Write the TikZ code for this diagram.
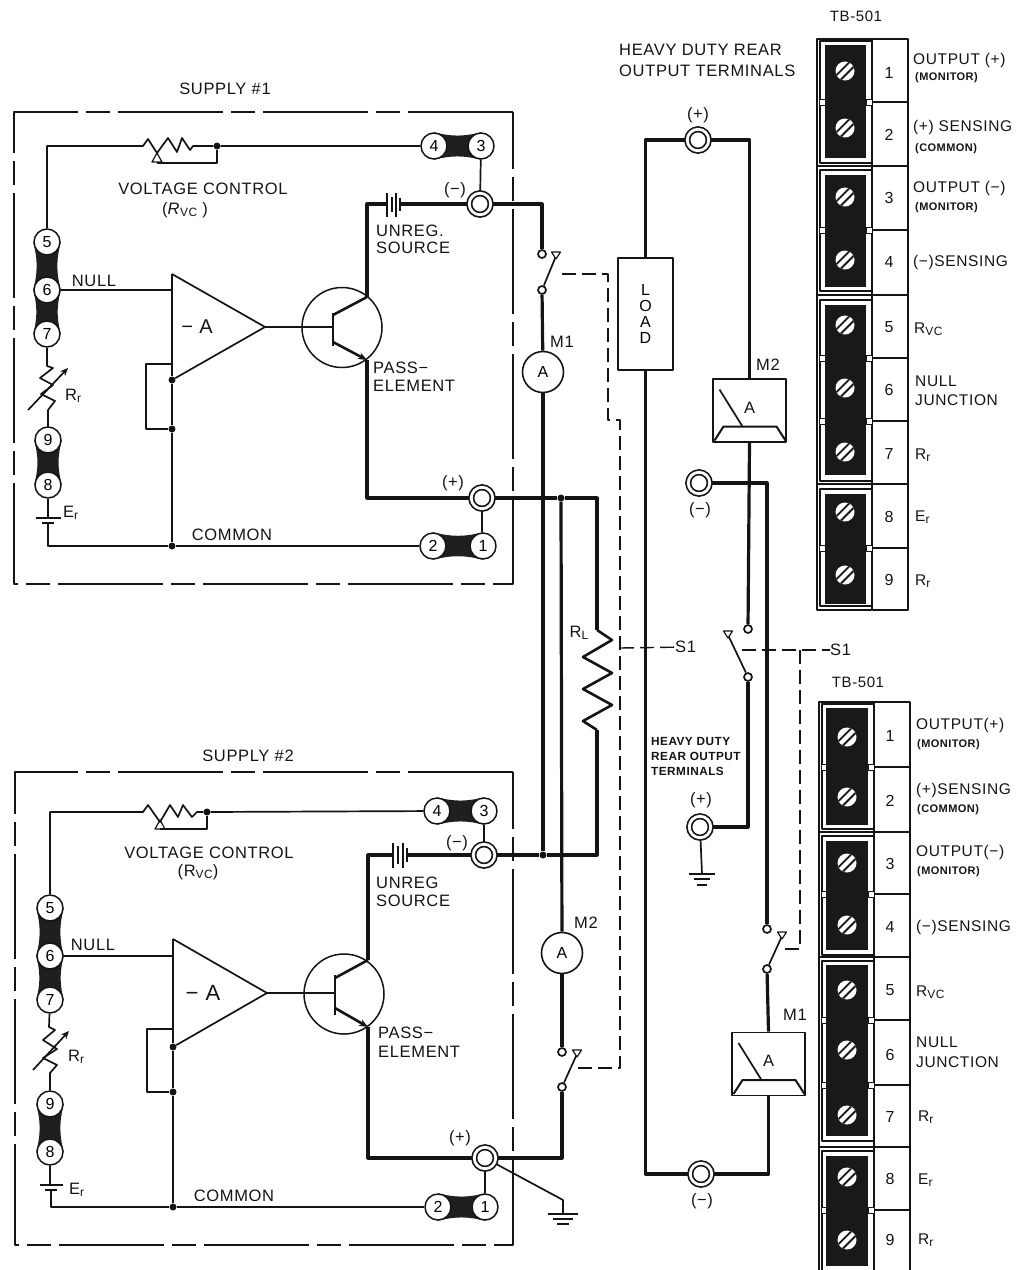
\documentclass[tikz,border=0pt]{standalone}
\usepackage{fontspec}
\setmainfont{Liberation Sans}[LetterSpace=4]
\usetikzlibrary{arrows.meta,backgrounds}

\definecolor{ink}{gray}{0.08}
\tikzset{
	every path/.style={line join=round},
	wire/.style={draw=ink,line width=1.7pt},
	bus/.style={draw=ink,line width=3.2pt},
	boxline/.style={draw=ink,line width=1.8pt,dash pattern=on 105pt off 8pt on 24pt off 8pt},
	link/.style={draw=ink,line width=1.4pt,dash pattern=on 14pt off 6pt},
	term/.style={circle,draw=ink,line width=1.5pt,fill=white,minimum size=26pt,inner sep=0pt,font=\fontsize{16}{16}\selectfont},
	bigterm/.style={circle,draw=ink,line width=1.7pt,double=white,double distance=2.8pt,fill=white,minimum size=21.5pt,inner sep=0pt,outer sep=2.6pt},
	contact/.style={circle,draw=ink,line width=1.7pt,fill=white,minimum size=8pt,inner sep=0pt},
	jdot/.style={circle,fill=ink,minimum size=7pt,inner sep=0pt},
	qcircle/.style={circle,draw=ink,line width=1.5pt,minimum size=80pt,inner sep=0pt},
	ammeter/.style={circle,draw=ink,line width=1.6pt,fill=white,minimum size=41pt,inner sep=0pt,font=\fontsize{16}{16}\selectfont},
	panelbox/.style={rectangle,draw=ink,line width=1.8pt,fill=white,minimum width=73pt,minimum height=63pt,inner sep=0pt},
	loadbox/.style={rectangle,draw=ink,line width=1.8pt,fill=white,minimum width=55pt,minimum height=112pt,inner sep=0pt,align=center,font=\fontsize{16}{16}\selectfont},
	lbl/.style={inner sep=0pt,text=ink,font=\fontsize{16.5}{16.5}\selectfont},
	lblw/.style={lbl,anchor=west},
	tblab/.style={lblw,font=\fontsize{15.5}{15.5}\selectfont},
	tiny/.style={inner sep=0pt,anchor=west,text=ink,font=\fontsize{11}{11}\bfseries\selectfont},
	heavy/.style={tiny,font=\fontsize{11.8}{12}\bfseries\selectfont},
	tlink/.style={fill=black!88},
	tbline/.style={draw=ink,line width=1.6pt},
	tbdark/.style={fill=black!90},
	tbnum/.style={lbl,font=\fontsize{16}{16}\selectfont},
	screw/.style={circle,fill=white,minimum size=19pt,inner sep=0pt,path picture={
		\draw[black!90,line width=1.9pt] ([xshift=-2.2pt,yshift=2.2pt]path picture bounding box.south west) -- ([xshift=-2.2pt,yshift=2.2pt]path picture bounding box.north east);
		\draw[black!90,line width=1.9pt] ([xshift=2.2pt,yshift=-2.2pt]path picture bounding box.south west) -- ([xshift=2.2pt,yshift=-2.2pt]path picture bounding box.north east);}},
}
\newcommand{\subs}[1]{\raisebox{-0.3ex}{\fontsize{12}{12}\selectfont #1}}
\newcommand{\termlink}[4]{\fill[tlink] (#1.#3) to[bend right=14] (#2.#3) -- (#2.#4) to[bend right=14] (#1.#4) -- cycle;}
\newcommand{\swtip}[1]{\draw[wire,line width=1.2pt,fill=white] ([shift={(-4.5,-4)}]#1) -- ([shift={(4.5,-4)}]#1) -- ([shift={(0,3)}]#1) -- cycle;}
\newcommand{\panelface}[2]{%
	\draw[wire] ([shift={(-30,-21)}]#1.center) -- ([shift={(-7,16)}]#1.center);
	\draw[wire,line width=2pt] ([shift={(-35,30)}]#1.center) -- ([shift={(-26,16)}]#1.center) -- ([shift={(27,16)}]#1.center) -- ([shift={(36,30)}]#1.center);
	\node[lbl] (#2) at ([shift={(0,-3)}]#1.center) {A};}

\begin{document}
\begin{tikzpicture}[x=1pt,y=-1pt]
	\useasboundingbox (0,0) rectangle (1030,1270);

	% Supply 1: frame and terminals
	\draw[boxline] (513,112) -- (14,112) -- (14,584) -- (513,584) -- cycle;
	\node[lbl] (titlea) at (225,89) {SUPPLY \#1};
	\node[term] (a4) at (434,146) {4};
	\node[term] (a3) at (481,146) {3};
	\node[term] (a5) at (47,242) {5};
	\node[term] (a6) at (47,290) {6};
	\node[term] (a7) at (47,334) {7};
	\node[term] (a9) at (48,440) {9};
	\node[term] (a8) at (48,485) {8};
	\node[term] (a2) at (433,546) {2};
	\node[term] (a1) at (483,546) {1};
	\node[bigterm] (anega) at (480,204) {};
	\node[bigterm] (aposa) at (482,498) {};
	\begin{pgfonlayer}{background}
		\termlink{a4}{a3}{north}{south}
		\termlink{a5}{a6}{east}{west}
		\termlink{a6}{a7}{east}{west}
		\termlink{a9}{a8}{east}{west}
		\termlink{a2}{a1}{north}{south}
	\end{pgfonlayer}

	% Supply 1: voltage control branch
	\node[jdot] (dvca) at (217,146) {};
	\coordinate (cvca) at (47,146);
	\coordinate (rvcla) at (143,146);
	\coordinate (rvcra) at (193,146);
	\coordinate (wipa) at (157,158);
	\draw[wire] (a5) -- (cvca) -- (rvcla) -- (148,139) -- (157,153) -- (168,138) -- (177,152) -- (182,138) -- (190,150) -- (rvcra) -- (dvca) -- (a4);
	\draw[wire] (wipa) ++(0,5) -| (dvca);
	\draw[wire,line width=1.2pt] (157,153) -- (152,162) -- (162,162) -- cycle;
	\draw[wire] (a3) -- (anega);
	\node[lbl] (vca) at (203,189) {VOLTAGE CONTROL};
	\node[lbl] (vcsa) at (185,210) {(\textit{R}\subs{VC} )};

	% Supply 1: amplifier and pass element
	\coordinate (ampta) at (172,274);
	\coordinate (ampoa) at (265,327);
	\node[jdot] (ampba) at (172,380) {};
	\node[jdot] (fba) at (172,429) {};
	\node[jdot] (coma) at (172,546) {};
	\node[lbl,font=\fontsize{20}{20}\selectfont] (gaina) at (197,327) {− A};
	\draw[wire] (ampta) -- (ampoa) -- (ampba);
	\draw[wire] (ampta) -- (ampba) -- (fba) -- (coma);
	\draw[wire] (a6) -- (ampta |- a6);
	\draw[wire] (172,364) -- (146,364) -- (146,429) -- (fba);
	\node[qcircle] (qa) at (342,327.5) {};
	\coordinate (basea) at (333,327);
	\draw[wire] (ampoa) -- (basea);
	\draw[wire,line width=2.2pt] (333,313) -- (333,346);
	\coordinate (colla) at (367,297);
	\coordinate (emita) at (367,360);
	\draw[wire,line width=2.6pt] (333,315) -- (colla);
	\draw[wire,line width=2.6pt,-{Stealth[length=9pt,width=7pt]}] (333,342) -- (emita);
	\node[lblw] (unra) at (376,231) {UNREG.};
	\node[lblw] (srca) at (376,248) {SOURCE};
	\node[lblw] (pasa) at (373,368) {PASS−};
	\node[lblw] (elta) at (373,386) {ELEMENT};
	\node[lbl] (nlla) at (94,281) {NULL};
	\node[lbl] (cmna) at (232,535) {COMMON};
	\node[lbl] (nega) at (455,190) {(−)};
	\node[lbl] (posa) at (453,483) {(+)};

	% Supply 1: source and return
	\draw[bus] (colla) -- (367,204) -- (387,204);
	\draw[wire,line width=2pt] (387,193) -- (387,217) (396,193) -- (396,217);
	\draw[wire] (392,197) -- (392,212) (400,198) -- (400,211);
	\draw[bus] (400,204) -- (anega);
	\draw[bus] (emita) -- (367,498) -- (aposa);
	\draw[wire] (aposa) -- (aposa |- a1.north);
	\draw[wire] (a7) -- (47,366) -- (53,368) -- (40,378) -- (53,385) -- (41,394) -- (55,401) -- (48,410) -- (48,427);
	\draw[wire,-{Stealth[open,length=8pt,width=7pt]}] (28,410) -- (68,368);
	\node[lblw] (rra) at (65,396) {R\subs{r}};
	\node[lblw] (era) at (63,513) {E\subs{r}};
	\draw[wire] (a8) -- (48,518);
	\draw[wire] (36,518) -- (61,518) (42,523) -- (54,523);
	\draw[wire] (48,523) |- (coma) -- (a2);

	% Supply 2: frame and terminals
	\draw[boxline] (513,772) -- (15,772) -- (15,1245) -- (513,1245) -- cycle;
	\node[lbl] (titleb) at (248,756) {SUPPLY \#2};
	\node[term] (b4) at (437,811) {4};
	\node[term] (b3) at (484,811) {3};
	\node[term] (b5) at (50,908) {5};
	\node[term] (b6) at (50,956) {6};
	\node[term] (b7) at (50,1000) {7};
	\node[term] (b9) at (50,1104) {9};
	\node[term] (b8) at (50,1152) {8};
	\node[term] (b2) at (438,1207) {2};
	\node[term] (b1) at (485,1207) {1};
	\node[bigterm] (bnega) at (484,855) {};
	\node[bigterm] (bposa) at (485,1158) {};
	\begin{pgfonlayer}{background}
		\termlink{b4}{b3}{north}{south}
		\termlink{b5}{b6}{east}{west}
		\termlink{b6}{b7}{east}{west}
		\termlink{b9}{b8}{east}{west}
		\termlink{b2}{b1}{north}{south}
	\end{pgfonlayer}

	% Supply 2: voltage control branch
	\node[jdot] (dvcb) at (207,812) {};
	\coordinate (cvcb) at (50,812);
	\draw[wire] (b5) -- (cvcb) -- (143,812) -- (148,805) -- (160,822) -- (170,805) -- (178,817) -- (183,805) -- (192,817) -- (197,812) -- (dvcb) -- (b4);
	\draw[wire] (160,829) -| (dvcb);
	\draw[wire,line width=1.2pt] (160,820) -- (155,829) -- (165,829) -- cycle;
	\draw[wire] (b3) -- (bnega);
	\node[lbl] (vcb) at (209,853) {VOLTAGE CONTROL};
	\node[lbl] (vcsb) at (198,872) {(R\subs{VC})};

	% Supply 2: amplifier and pass element
	\coordinate (amptb) at (173,939);
	\coordinate (ampob) at (267,993);
	\node[jdot] (ampbb) at (173,1047) {};
	\node[jdot] (fbb) at (173,1092) {};
	\node[jdot] (comb) at (173,1207) {};
	\node[lbl,font=\fontsize{22}{22}\selectfont] (gainb) at (203,993) {− A};
	\draw[wire] (amptb) -- (ampob) -- (ampbb);
	\draw[wire] (amptb) -- (ampbb) -- (fbb) -- (comb);
	\draw[wire] (b6) -- (amptb |- b6);
	\draw[wire] (173,1029) -- (147,1029) -- (147,1092) -- (fbb);
	\node[qcircle] (qb) at (344,994) {};
	\coordinate (baseb) at (335,993);
	\draw[wire] (ampob) -- (baseb);
	\draw[wire,line width=2.2pt] (335,975) -- (335,1015);
	\coordinate (collb) at (368,960);
	\coordinate (emitb) at (368,1027);
	\draw[wire,line width=2.6pt] (335,978) -- (collb);
	\draw[wire,line width=2.6pt,-{Stealth[length=9pt,width=7pt]}] (335,1008) -- (emitb);
	\node[lblw] (unrb) at (376,883) {UNREG};
	\node[lblw] (srcb) at (376,901) {SOURCE};
	\node[lblw] (pasb) at (378,1033) {PASS−};
	\node[lblw] (eltb) at (378,1052) {ELEMENT};
	\node[lbl] (nllb) at (93,945) {NULL};
	\node[lbl] (cmnb) at (234,1196) {COMMON};
	\node[lbl] (negb) at (457,843) {(−)};
	\node[lbl] (posb) at (460,1138) {(+)};

	% Supply 2: source and return
	\draw[bus] (collb) -- (368,855) -- (393,855);
	\draw[wire,line width=2pt] (393,843) -- (393,868) (403,843) -- (403,868);
	\draw[wire] (398,846) -- (398,864) (407,848) -- (407,862);
	\draw[bus] (407,855) -- (bnega);
	\draw[bus] (emitb) -- (368,1158) -- (bposa);
	\draw[wire] (bposa) -- (bposa |- b1.north);
	\draw[wire] (b7) -- (49,1027) -- (55,1030) -- (43,1040) -- (57,1049) -- (43,1058) -- (57,1065) -- (50,1073) -- (b9);
	\draw[wire,-{Stealth[open,length=8pt,width=7pt]}] (33,1070) -- (69,1031);
	\node[lblw] (rrb) at (68,1057) {R\subs{r}};
	\node[lblw] (erb) at (69,1190) {E\subs{r}};
	\draw[wire] (b8) -- (50,1185);
	\draw[wire] (40,1185) -- (63,1185) (45,1190) -- (57,1190);
	\draw[wire] (51,1190) |- (comb) -- (b2);

	% Load resistor and the two meters between the supplies
	\node[ammeter] (ma) at (543,372) {A};
	\node[ammeter] (mb) at (562,953) {A};
	\node[lbl] (mal) at (562,342) {M1};
	\node[lbl] (mbl) at (586,923) {M2};
	\node[contact] (swat) at (542,254) {};
	\node[contact] (swab) at (542,290) {};
	\coordinate (swatip) at (556,256);
	\node[contact] (swbt) at (562,1052) {};
	\node[contact] (swbb) at (562,1087) {};
	\coordinate (swbtip) at (577,1054);
	\node[jdot] (jra) at (561,498) {};
	\node[jdot] (jrb) at (543,855) {};
	\coordinate (rlt) at (597,498);
	\coordinate (rlb) at (597,855);
	\draw[bus] (anega) -| (swat);
	\draw[bus] (swab) -- (ma);
	\draw[bus] (ma) -- (jrb);
	\draw[wire] (swab) -- (swatip);
	\swtip{swatip}
	\draw[bus] (aposa) -- (jra) -- (rlt) -- (597,630);
	\draw[bus,line width=2.6pt] (597,630) -- (612,640) -- (583,657) -- (612,673) -- (583,689) -- (612,705) -- (583,721) -- (597,730);
	\draw[bus] (597,730) -- (rlb) -- (jrb) -- (bnega);
	\draw[bus] (jra) -- (mb);
	\draw[bus] (mb) -- (swbt);
	\draw[wire] (swbb) -- (swbtip);
	\swtip{swbtip}
	\draw[bus] (swbb) |- (bposa);
	\node[lbl] (rll) at (579,633) {R\subs{L}};
	\coordinate (gnda) at (563,1214);
	\draw[wire] (bposa) -- (563,1200) -- (gnda);
	\draw[wire] (548,1214) -- (578,1214) (553,1219) -- (573,1219);
	\draw[wire,line width=2.2pt] (557,1224) -- (569,1224);

	% Output terminals, load and panel meters
	\node[lblw] (hda) at (619,50) {HEAVY DUTY REAR};
	\node[lblw] (hdb) at (619,71) {OUTPUT TERMINALS};
	\node[bigterm] (otp) at (698,140) {};
	\node[bigterm] (otn) at (701,1174) {};
	\node[bigterm] (omn) at (699,483) {};
	\node[bigterm] (omp) at (700,827) {};
	\node[lbl] (otpl) at (698,115) {(+)};
	\node[lbl] (otnl) at (702,1201) {(−)};
	\node[lbl] (omnl) at (700,510) {(−)};
	\node[lbl] (ompl) at (701,800) {(+)};
	\node[loadbox] (load) at (645.5,314) {L\\O\\A\\D};
	\node[panelbox] (pmb) at (749.5,410.5) {};
	\panelface{pmb}{pmba}
	\node[panelbox] (pma) at (768.5,1064) {};
	\panelface{pma}{pmaa}
	\node[lbl] (pmbl) at (768,365) {M2};
	\node[lbl] (pmal) at (795,1015) {M1};
	\draw[bus] (otp) -| (load.north);
	\draw[bus] (load.south) |- (otn);
	\draw[bus] (otp) -| (pmb.north);
	\draw[bus] (otn) -| (pma.south);
	\node[contact] (swct) at (748,629) {};
	\node[contact] (swcb) at (748,677) {};
	\coordinate (swctip) at (728,635);
	\node[contact] (swdt) at (767,929) {};
	\node[contact] (swdb) at (767,969) {};
	\coordinate (swdtip) at (782,936);
	\draw[bus] (pmb.south) -- (swct);
	\draw[wire] (swcb) -- (swctip);
	\swtip{swctip}
	\draw[bus] (swcb) |- (omp);
	\draw[bus] (omn) -| (swdt);
	\draw[wire] (swdb) -- (swdtip);
	\swtip{swdtip}
	\draw[bus] (swdb) -- (pma.north);
	\coordinate (gndb) at (702,874);
	\draw[wire] (omp) -- (gndb);
	\draw[wire] (689,874) -- (715,874) (694,879) -- (710,879);
	\draw[wire,line width=2.2pt] (697,885) -- (707,885);
	\node[heavy] (hdc) at (651,741) {HEAVY DUTY};
	\node[heavy] (hdd) at (651,756) {REAR OUTPUT};
	\node[heavy] (hde) at (651,771) {TERMINALS};

	% Ganged switch link S1
	\node[lblw] (sla) at (675,647) {S1};
	\node[lblw] (slb) at (830,650) {S1};
	\draw[link] (578,1068) -- (620,1068) -- (620,420) -- (608,420) -- (608,274) -- (560,274);
	\draw[link] (620,648) -- (sla);
	\draw[link] (742,650) -- (slb);
	\draw[link] (800,650) -- (800,949) -- (785,949);

	% Terminal board, upper
	\node[lbl,font=\fontsize{15}{15}\selectfont] (tba) at (856,16) {TB-501};
	\draw[tbline] (817,39) rectangle (908,610);
	\draw[tbline] (872,39) -- (872,610);
	\foreach \t/\b/\dt/\db in {41/163/45/158,170/291/175/287,300/481/305/475,489/606/494/604} {
		\draw[tbline,line width=1.2pt] (820,\t) rectangle (872,\b);
		\fill[tbdark] (825,\dt) rectangle (866,\db);
	}
	\foreach \y in {166,295,484} \draw[tbline] (817,\y) -- (908,\y);
	\foreach \y in {102,230,358,421,548} {
		\draw[tbline] (872,\y) -- (908,\y);
		\draw[tbline,line width=1pt,fill=white] (819,\y-3) rectangle (825,\y+3);
		\draw[tbline,line width=1pt,fill=white] (866,\y-3) rectangle (872,\y+3);
	}
	\foreach \i/\ys/\yn in {1/71/73,2/128/135,3/197/198,4/260/262,5/325/327,6/388/390,7/452/454,8/512/517,9/575/580} {
		\node[screw] (sa\i) at (845,\ys) {};
		\node[tbnum] (na\i) at (889,\yn) {\i};
	}
	\node[tblab] (tal) at (913,60) {OUTPUT (+)};
	\node[tiny] (tam) at (915,78) {(MONITOR)};
	\node[tblab] (tas) at (913,127) {(+) SENSING};
	\node[tiny] (tac) at (915,149) {(COMMON)};
	\node[tblab] (tao) at (913,188) {OUTPUT (−)};
	\node[tiny] (tan) at (915,208) {(MONITOR)};
	\node[tblab] (tad) at (913,262) {(−)SENSING};
	\node[tblab] (tav) at (914,329) {R\subs{VC}};
	\node[tblab] (tau) at (915,381) {NULL};
	\node[tblab] (taj) at (915,400) {JUNCTION};
	\node[tblab] (tar) at (915,455) {R\subs{r}};
	\node[tblab] (tae) at (915,517) {E\subs{r}};
	\node[tblab] (taf) at (915,581) {R\subs{r}};

	% Terminal board, lower
	\node[lbl,font=\fontsize{15}{15}\selectfont] (tbb) at (858,682) {TB-501};
	\draw[tbline] (819,1270) -- (819,702) -- (910,702) -- (910,1270);
	\draw[tbline] (874,702) -- (874,1270);
	\foreach \t/\b/\dt/\db in {704/829/708/825,836/955/841/950,961/1141/965/1136,1151/1272/1156/1266} {
		\draw[tbline,line width=1.2pt] (822,\t) rectangle (874,\b);
		\fill[tbdark] (826,\dt) rectangle (868,\db);
	}
	\foreach \y in {832,957,1147} \draw[tbline] (819,\y) -- (910,\y);
	\foreach \y in {767,894,1020,1085,1210} {
		\draw[tbline] (874,\y) -- (910,\y);
		\draw[tbline,line width=1pt,fill=white] (821,\y-3) rectangle (826,\y+3);
		\draw[tbline,line width=1pt,fill=white] (868,\y-3) rectangle (874,\y+3);
	}
	\foreach \i/\ys/\yn in {1/737/736,2/797/801,3/863/864,4/925/927,5/990/990,6/1050/1055,7/1115/1117,8/1177/1179,9/1240/1240} {
		\node[screw] (sb\i) at (847,\ys) {};
		\node[tbnum] (nb\i) at (890,\yn) {\i};
	}
	\node[tblab] (tbl) at (916,725) {OUTPUT(+)};
	\node[tiny] (tbm) at (917,745) {(MONITOR)};
	\node[tblab] (tbs) at (916,790) {(+)SENSING};
	\node[tiny] (tbc) at (917,810) {(COMMON)};
	\node[tblab] (tbo) at (916,852) {OUTPUT(−)};
	\node[tiny] (tbn) at (917,872) {(MONITOR)};
	\node[tblab] (tbd) at (916,927) {(−)SENSING};
	\node[tblab] (tbv) at (916,992) {R\subs{VC}};
	\node[tblab] (tbu) at (916,1042) {NULL};
	\node[tblab] (tbj) at (916,1062) {JUNCTION};
	\node[tblab] (tbr) at (918,1117) {R\subs{r}};
	\node[tblab] (tbe) at (918,1180) {E\subs{r}};
	\node[tblab] (tbf) at (918,1240) {R\subs{r}};
\end{tikzpicture}
\end{document}
